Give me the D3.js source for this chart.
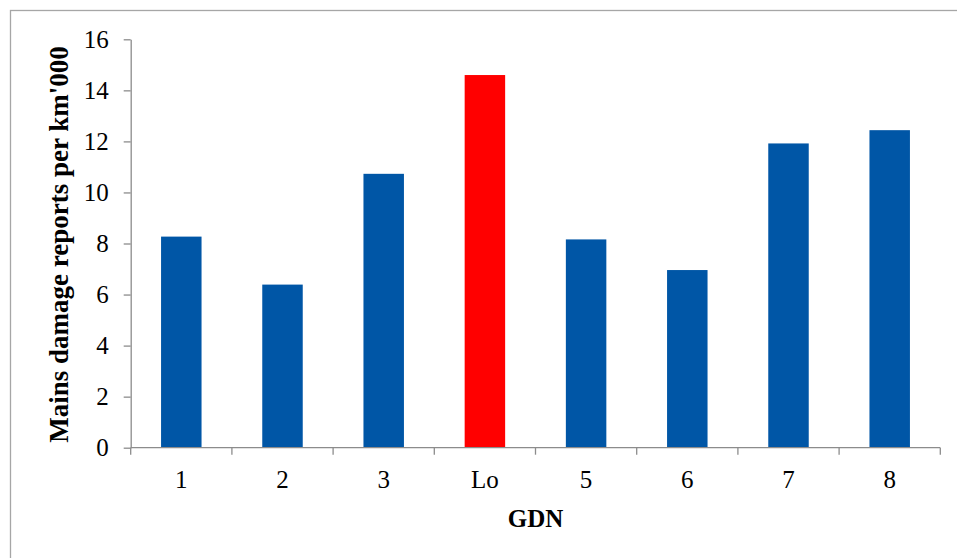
<!DOCTYPE html>
<html>
<head>
<meta charset="utf-8">
<script src="https://cdn.jsdelivr.net/npm/d3@7"></script>
<style>
  html, body { margin: 0; padding: 0; background: #fff; }
  svg { display: block; }
</style>
</head>
<body>
<svg id="chart" width="957" height="558"></svg>
<script>
const categories = ["1", "2", "3", "Lo", "5", "6", "7", "8"];
const values = [8.27, 6.39, 10.73, 14.6, 8.16, 6.96, 11.92, 12.44];
const highlight = "Lo";
const yTicks = [0, 2, 4, 6, 8, 10, 12, 14, 16];
const yTitle = "Mains damage reports per km'000";
const xTitle = "GDN";

const svg = d3.select("#chart");
const W = 957, H = 558;
const plot = { left: 130.7, right: 940.3, top: 39.3, bottom: 447.7 };
const axisColor = "#8c8c8c";
const font = "'Liberation Serif', 'Times New Roman', serif";

// outer frame
svg.append("rect")
  .attr("x", 10.5).attr("y", 10.5)
  .attr("width", 960).attr("height", 600)
  .attr("fill", "#fff").attr("stroke", "#a6a6a6").attr("stroke-width", 1.3);

const x = d3.scaleBand()
  .domain(categories)
  .range([plot.left, plot.right])
  .paddingInner(0.6)
  .paddingOuter(0.3);

const y = d3.scaleLinear()
  .domain([0, 16])
  .range([plot.bottom, plot.top]);

// bars
svg.append("g").selectAll("rect")
  .data(categories.map((c, i) => ({ c, v: values[i] })))
  .join("rect")
  .attr("x", d => x(d.c))
  .attr("y", d => y(d.v))
  .attr("width", x.bandwidth())
  .attr("height", d => y(0) - y(d.v))
  .attr("fill", d => d.c === highlight ? "#ff0000" : "#0056a6");

// y axis
const yAxis = svg.append("g")
  .attr("transform", `translate(${plot.left},0)`)
  .call(d3.axisLeft(y).tickValues(yTicks).tickSize(7).tickPadding(15).tickSizeOuter(0));
yAxis.select(".domain").attr("stroke", axisColor).attr("stroke-width", 1.3);
yAxis.selectAll(".tick line").attr("stroke", axisColor).attr("stroke-width", 1.3);
yAxis.selectAll(".tick text")
  .attr("font-family", font).attr("font-size", 25).attr("fill", "#000")
  .attr("dy", "0.33em");

// x axis (labels)
const xAxis = svg.append("g")
  .attr("transform", `translate(0,${plot.bottom})`)
  .call(d3.axisBottom(x).tickSize(0).tickPadding(23).tickSizeOuter(0));
xAxis.select(".domain").attr("stroke", axisColor).attr("stroke-width", 1.3)
  .attr("d", `M${plot.left},0H${plot.right}`);
xAxis.selectAll(".tick text")
  .attr("font-family", font).attr("font-size", 25).attr("fill", "#000");

// x boundary tick marks
const step = x.step();
const boundaries = d3.range(categories.length + 1).map(i => plot.left + i * step);
xAxis.append("g").selectAll("line")
  .data(boundaries)
  .join("line")
  .attr("x1", d => d).attr("x2", d => d)
  .attr("y1", 0).attr("y2", 7)
  .attr("stroke", axisColor).attr("stroke-width", 1.3);

// axis titles
svg.append("text")
  .attr("transform", `translate(68,${(plot.top + plot.bottom) / 2 + 1}) rotate(-90)`)
  .attr("text-anchor", "middle")
  .attr("font-family", font).attr("font-weight", "bold").attr("font-size", 27)
  .attr("fill", "#000")
  .text(yTitle);

svg.append("text")
  .attr("x", (plot.left + plot.right) / 2)
  .attr("y", 527)
  .attr("text-anchor", "middle")
  .attr("font-family", font).attr("font-weight", "bold").attr("font-size", 25)
  .attr("fill", "#000")
  .text(xTitle);
</script>
</body>
</html>
